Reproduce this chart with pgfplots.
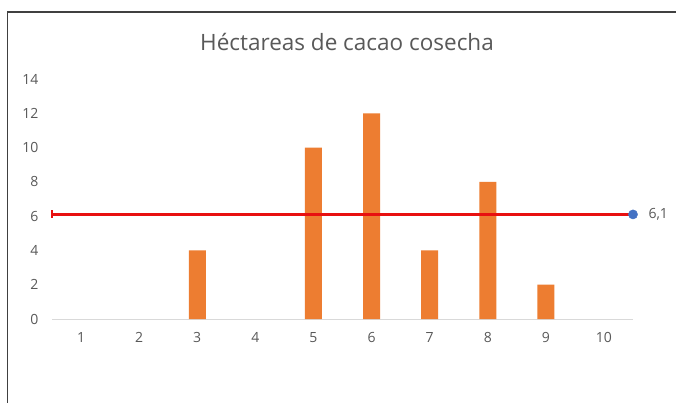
\documentclass[border=0pt]{standalone}
\usepackage{pgfplots}
\pgfplotsset{compat=1.18}
\usepackage{fontspec}
\setmainfont{Open Sans}
\definecolor{barorange}{HTML}{ED7D31}
\definecolor{dotblue}{HTML}{4472C4}
\definecolor{txtgray}{HTML}{595959}
\definecolor{axgray}{HTML}{D9D9D9}
\definecolor{linered}{HTML}{E81010}
\begin{document}
\begin{tikzpicture}
\useasboundingbox (0,0) rectangle (676bp,403bp);
\fill[white] (0,0) rectangle (676bp,403bp);
\draw[black!75, line width=1.2bp] (7.5bp,0) -- (7.5bp,391bp) -- (676bp,391bp);
\node[text=txtgray, font=\fontsize{22.5bp}{26bp}\selectfont] at (347bp,361bp) {Héctareas de cacao cosecha};
\begin{axis}[
  at={(52bp,84bp)}, anchor=south west,
  scale only axis, width=581bp, height=240bp,
  xmin=0.5, xmax=10.5, ymin=0, ymax=14,
  xtick={1,...,10}, ytick={0,2,...,14},
  axis x line*=bottom, axis y line*=left,
  x axis line style={draw=axgray, line width=0.8bp, -},
  y axis line style={draw=none},
  tick style={draw=none},
  major tick length=0pt,
  ticklabel style={text=txtgray, font=\fontsize{14bp}{16bp}\selectfont},
  /pgf/number format/assume math mode=true,
  xticklabel style={yshift=-10bp},
  yticklabel style={xshift=-10bp},
  clip=false,
]
\addplot[ybar, bar width=17bp, fill=barorange, draw=none] coordinates {
(3,4) (5,10) (6,12) (7,4) (8,8) (9,2)};
\addplot[linered, line width=3.8bp, mark=none] coordinates {(0.5,6.1) (10.5,6.1)};
\addplot[only marks, linered, mark=|, mark size=4bp, line width=1.5bp] coordinates {(0.5,6.1)};
\addplot[only marks, dotblue, mark=*, mark size=4.6bp] coordinates {(10.5,6.1)};
\node[anchor=west, text=txtgray, font=\fontsize{14bp}{16bp}\selectfont] at (axis cs:10.5,6.1) [xshift=12bp] {6,1};
\end{axis}
\end{tikzpicture}
\end{document}
